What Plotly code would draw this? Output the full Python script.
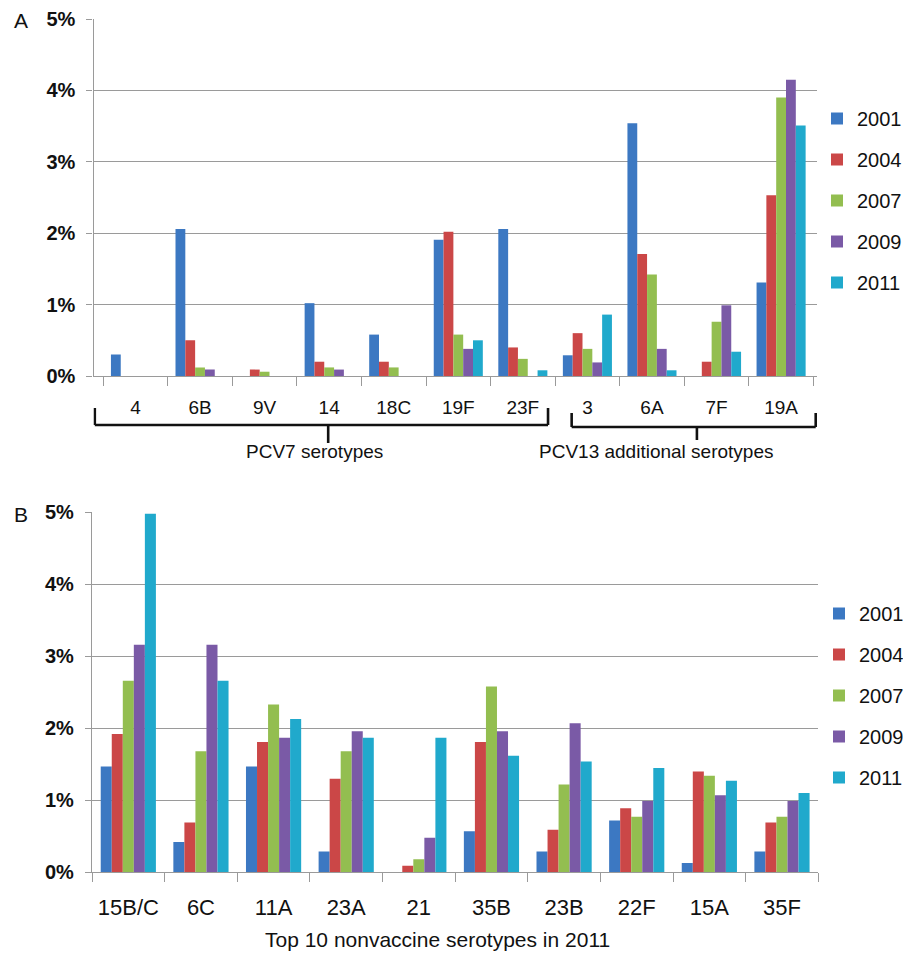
import plotly.graph_objects as go

years = ["2001", "2004", "2007", "2009", "2011"]
colors = ["#3c78c2", "#cb4747", "#93be50", "#7a5aa6", "#20a9cc"]

# Panel A
cats_a = ["4", "6B", "9V", "14", "18C", "19F", "23F", "3", "6A", "7F", "19A"]
a_2001 = [0.30, 2.06, 0.00, 1.02, 0.58, 1.91, 2.06, 0.29, 3.54, 0.00, 1.31]
a_2004 = [0.00, 0.50, 0.09, 0.20, 0.20, 2.02, 0.40, 0.60, 1.71, 0.20, 2.53]
a_2007 = [0.00, 0.12, 0.06, 0.12, 0.12, 0.58, 0.24, 0.38, 1.42, 0.76, 3.90]
a_2009 = [0.00, 0.09, 0.00, 0.09, 0.00, 0.38, 0.00, 0.19, 0.38, 0.99, 4.15]
a_2011 = [0.00, 0.00, 0.00, 0.00, 0.00, 0.50, 0.08, 0.86, 0.08, 0.34, 3.51]

# Panel B
cats_b = ["15B/C", "6C", "11A", "23A", "21", "35B", "23B", "22F", "15A", "35F"]
b_2001 = [1.47, 0.42, 1.47, 0.29, 0.00, 0.57, 0.29, 0.72, 0.13, 0.29]
b_2004 = [1.92, 0.69, 1.81, 1.30, 0.09, 1.81, 0.59, 0.89, 1.40, 0.69]
b_2007 = [2.66, 1.68, 2.33, 1.68, 0.18, 2.58, 1.22, 0.77, 1.34, 0.77]
b_2009 = [3.16, 3.16, 1.87, 1.96, 0.48, 1.96, 2.07, 0.99, 1.07, 0.99]
b_2011 = [4.98, 2.66, 2.13, 1.87, 1.87, 1.62, 1.54, 1.45, 1.27, 1.10]

y_tickvals = [0, 1, 2, 3, 4, 5]
y_ticktext = ["0%", "1%", "2%", "3%", "4%", "5%"]

series_a = [a_2001, a_2004, a_2007, a_2009, a_2011]
series_b = [b_2001, b_2004, b_2007, b_2009, b_2011]

FONT = "Liberation Sans, Arial, sans-serif"
GRID = "#9a9a9a"
# the page body has an 8px margin, so the figure starts at (8, 8) in the window
OFF = 8
W, H = 911 - 2 * OFF, 954 - OFF

fig = go.Figure()
for i, (yr, col) in enumerate(zip(years, colors)):
    fig.add_trace(go.Bar(x=cats_a, y=series_a[i], name=yr, marker=dict(color=col, line=dict(width=0)),
                         xaxis="x", yaxis="y", legend="legend", legendgroup="a" + yr))
for i, (yr, col) in enumerate(zip(years, colors)):
    fig.add_trace(go.Bar(x=cats_b, y=series_b[i], name=yr, marker=dict(color=col, line=dict(width=0)),
                         xaxis="x2", yaxis="y2", legend="legend2", legendgroup="b" + yr))

def px_x(p):
    return (p - OFF) / W

def px_y(p):
    return 1 - (p - OFF) / H

yax_common = dict(range=[0, 5], tickmode="array", tickvals=y_tickvals, ticktext=y_ticktext,
                  showgrid=True, gridcolor=GRID, gridwidth=1.3,
                  showline=True, linecolor=GRID, linewidth=1.3,
                  ticks="outside", ticklen=6, tickcolor=GRID, tickwidth=1.3,
                  tickfont=dict(family=FONT, size=20, color="#111111", weight="bold"),
                  ticklabelstandoff=7, zeroline=False, automargin=False)
xax_common = dict(type="category", showgrid=False, showline=True, linecolor=GRID, linewidth=1.3,
                  ticks="outside", tickson="boundaries", ticklen=9, tickcolor=GRID, tickwidth=1.3,
                  zeroline=False, automargin=False)

fig.update_layout(
    width=W, height=H,
    margin=dict(l=0, r=0, t=0, b=0, autoexpand=False),
    paper_bgcolor="white", plot_bgcolor="white",
    barmode="group", bargap=0.24, bargroupgap=0,
    font=dict(family=FONT, color="#111111"),
    xaxis=dict(domain=[px_x(93.5), px_x(817)], anchor="y",
               tickfont=dict(family=FONT, size=19, color="#111111"), ticklabelstandoff=14, **xax_common),
    yaxis=dict(domain=[px_y(376), px_y(19)], anchor="x", **yax_common),
    xaxis2=dict(domain=[px_x(92), px_x(818.3)], anchor="y2",
                tickfont=dict(family=FONT, size=22, color="#111111"), ticklabelstandoff=15, **xax_common),
    yaxis2=dict(domain=[px_y(872.3), px_y(512.3)], anchor="x2", **yax_common),
    legend=dict(x=px_x(817), xanchor="left", y=px_y(200.5), yanchor="middle",
                font=dict(family=FONT, size=20, color="#111111"),
                tracegroupgap=12, bgcolor="rgba(0,0,0,0)", itemclick=False),
    legend2=dict(x=px_x(819), xanchor="left", y=px_y(695.5), yanchor="middle",
                 font=dict(family=FONT, size=20, color="#111111"),
                 tracegroupgap=12, bgcolor="rgba(0,0,0,0)", itemclick=False),
    showlegend=True,
)

# brackets (decorations below panel A's axis), positioned in category units
LW = 2.6
def seg(x0, y0, x1, y1):
    fig.add_shape(type="line", xref="x", yref="paper", x0=x0, x1=x1, y0=px_y(y0), y1=px_y(y1),
                  line=dict(color="#111111", width=LW))

# PCV7 bracket
seg(-0.63, 408, -0.63, 425)
seg(-0.63, 425, 6.39, 425)
seg(6.39, 408, 6.39, 425)
seg(2.985, 425, 2.985, 443)
# PCV13 bracket
seg(6.756, 413, 6.756, 427)
seg(6.756, 427, 10.536, 427)
seg(10.536, 413, 10.536, 427)
seg(8.696, 427, 8.696, 440)

def label(text, x, y, size, xref="paper"):
    fig.add_annotation(text=text, xref=xref, yref="paper", x=x, y=px_y(y),
                       xanchor="center", yanchor="middle", showarrow=False,
                       font=dict(family=FONT, size=size, color="#111111"))

label("PCV7 serotypes", 2.77, 451, 19, xref="x")
label("PCV13 additional serotypes", 8.063, 451, 19, xref="x")
label("Top 10 nonvaccine serotypes in 2011", px_x(437), 939, 21)
label("A", px_x(20.5), 20, 21)
label("B", px_x(20.5), 515, 21)

fig.write_html("out.html")
